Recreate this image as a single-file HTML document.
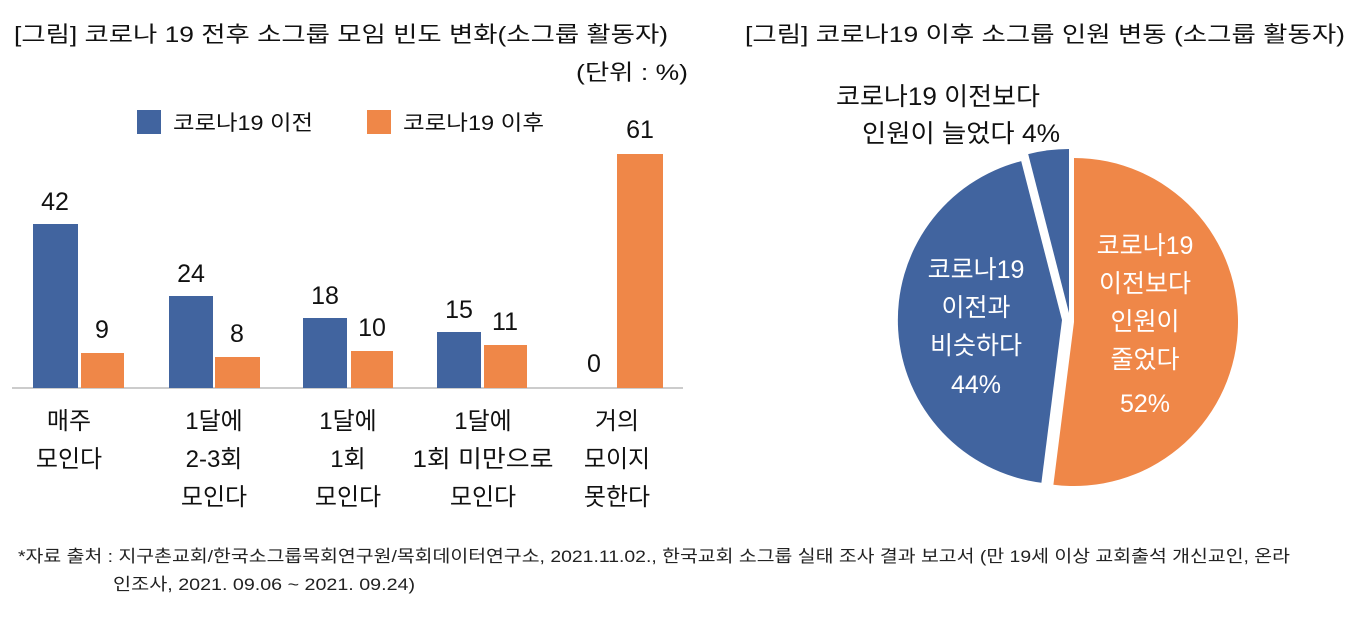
<!DOCTYPE html>
<html><head><meta charset="utf-8"><style>
html,body{margin:0;padding:0;background:#fff;}
svg{display:block;font-family:"Liberation Sans","Noto Sans CJK KR",sans-serif;}
</style></head><body>
<svg width="1362" height="618" viewBox="0 0 1362 618" xmlns="http://www.w3.org/2000/svg">
<g fill="#111" font-size="22">
<text x="14" y="42" textLength="654" lengthAdjust="spacingAndGlyphs">[그림] 코로나 19 전후 소그룹 모임 빈도 변화(소그룹 활동자)</text>
<text x="745" y="42" textLength="600" lengthAdjust="spacingAndGlyphs">[그림] 코로나19 이후 소그룹 인원 변동 (소그룹 활동자)</text>
<text x="576" y="80" textLength="112" lengthAdjust="spacingAndGlyphs">(단위 : %)</text>
</g>
<rect x="137" y="110" width="24" height="24" fill="#41649f"/>
<rect x="367" y="110" width="24" height="24" fill="#ef8748"/>
<g font-size="21" fill="#111">
<text x="173" y="130" textLength="140" lengthAdjust="spacingAndGlyphs">코로나19 이전</text>
<text x="403" y="130" textLength="141" lengthAdjust="spacingAndGlyphs">코로나19 이후</text>
</g>
<line x1="12" y1="388" x2="683" y2="388" stroke="#bbb" stroke-width="1.5"/>
<g fill="#41649f">
<rect x="33" y="224" width="45" height="164"/>
<rect x="169" y="296" width="44" height="92"/>
<rect x="303" y="318" width="44" height="70"/>
<rect x="437" y="332" width="44" height="56"/>
</g>
<g fill="#ef8748">
<rect x="81" y="353" width="43" height="35"/>
<rect x="215" y="357" width="45" height="31"/>
<rect x="351" y="351" width="42" height="37"/>
<rect x="484" y="345" width="43" height="43"/>
<rect x="617" y="154" width="46" height="234"/>
</g>
<g font-size="25" fill="#111" text-anchor="middle">
<text x="55" y="210">42</text><text x="102" y="338">9</text>
<text x="191" y="282">24</text><text x="237" y="342">8</text>
<text x="325" y="304">18</text><text x="372" y="336">10</text>
<text x="459" y="318">15</text><text x="505" y="330">11</text>
<text x="594" y="372">0</text><text x="640" y="138">61</text>
</g>
<g font-size="24" fill="#111" text-anchor="middle">
<text x="69" y="429">매주</text><text x="69" y="467">모인다</text>
<text x="214" y="429">1달에</text><text x="214" y="467">2-3회</text><text x="214" y="505">모인다</text>
<text x="348" y="429">1달에</text><text x="348" y="467">1회</text><text x="348" y="505">모인다</text>
<text x="483" y="429">1달에</text><text x="483" y="467" textLength="141" lengthAdjust="spacingAndGlyphs">1회 미만으로</text><text x="483" y="505">모인다</text>
<text x="617" y="429">거의</text><text x="617" y="467">모이지</text><text x="617" y="505">못한다</text>
</g>
<path d="M1074,322 L1074,158 A164,164 0 1 1 1053.4,484.7 Z" fill="#ef8748"/>
<path d="M1062,320 L1041.4,482.7 A164,164 0 0 1 1021.2,161.1 Z" fill="#41649f"/>
<path d="M1069,313 L1028.2,154.1 A164,164 0 0 1 1069,149 Z" fill="#41649f"/>
<g font-size="25" fill="#111" text-anchor="middle">
<text x="938" y="105" textLength="204" lengthAdjust="spacingAndGlyphs">코로나19 이전보다</text>
<text x="961" y="142" textLength="198" lengthAdjust="spacingAndGlyphs">인원이 늘었다 4%</text>
</g>
<g font-size="25" fill="#fff" text-anchor="middle">
<text x="976" y="278">코로나19</text><text x="976" y="316">이전과</text><text x="976" y="354">비슷하다</text><text x="976" y="393">44%</text>
<text x="1145" y="254">코로나19</text><text x="1145" y="292">이전보다</text><text x="1145" y="330">인원이</text><text x="1145" y="368">줄었다</text><text x="1145" y="412">52%</text>
</g>
<g font-size="17" fill="#222">
<text x="18" y="562" textLength="1272" lengthAdjust="spacingAndGlyphs">*자료 출처 : 지구촌교회/한국소그룹목회연구원/목회데이터연구소, 2021.11.02., 한국교회 소그룹 실태 조사 결과 보고서 (만 19세 이상 교회출석 개신교인, 온라</text>
<text x="113" y="590" textLength="302" lengthAdjust="spacingAndGlyphs">인조사, 2021. 09.06 ~ 2021. 09.24)</text>
</g>
</svg>
</body></html>
